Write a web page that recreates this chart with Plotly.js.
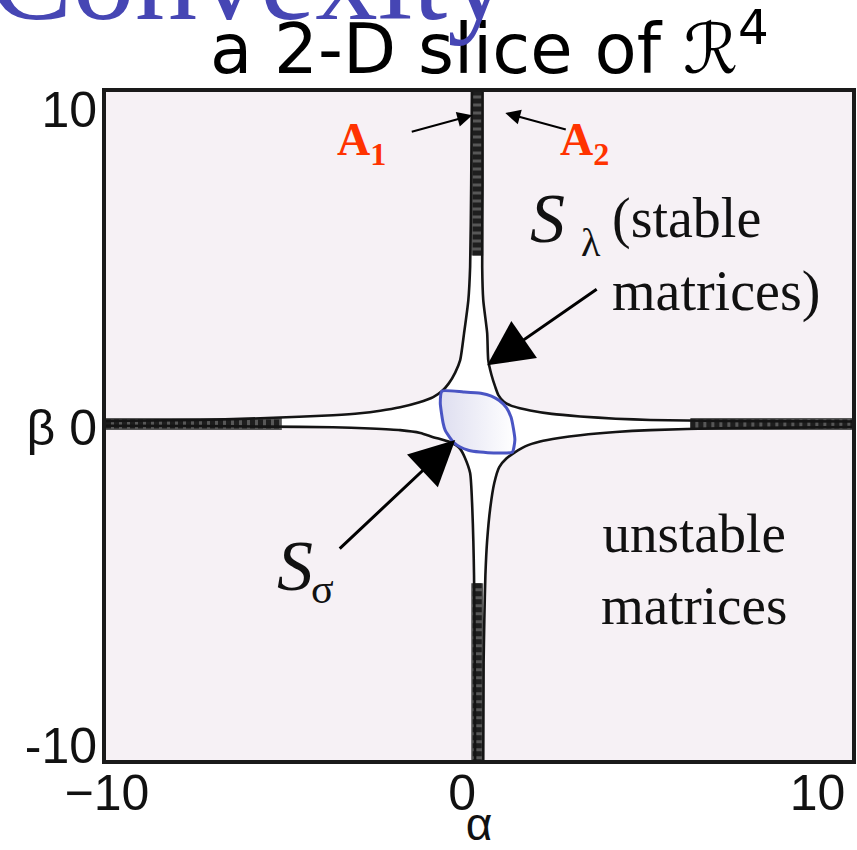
<!DOCTYPE html>
<html>
<head>
<meta charset="utf-8">
<script src="https://cdn.plot.ly/plotly-3.0.1.min.js"></script>
<style>
  html, body { margin: 0; padding: 0; background: #ffffff; }
  #plot { width: 857px; height: 850px; }
</style>
</head>
<body>
<div id="plot"></div>
<script>
// Boundary of the stable set S_lambda in the (alpha, beta) slice, one branch per quadrant.
// Top-left branch, from the top edge down to the left edge
const tlAlpha = [-0.15, -0.17, -0.20, -0.25, -0.37, -0.48, -0.62, -0.80, -0.99, -1.24, -1.65, -2.17, -2.73, -3.30, -4.06, -5.92, -7.80, -10.45];
const tlBeta  = [10.44, 7.50, 4.94, 3.90, 2.86, 2.01, 1.62, 1.28, 1.04, 0.85, 0.68, 0.53, 0.42, 0.34, 0.28, 0.19, 0.13, 0.10];
// Bottom-left branch, from the left edge down to the bottom edge
const blAlpha = [-10.45, -7.80, -5.92, -4.06, -3.00, -2.17, -1.60, -1.24, -0.95, -0.76, -0.60, -0.48, -0.35, -0.20, -0.14, -0.11, -0.09, -0.07, -0.06];
const blBeta  = [-0.05, -0.06, -0.08, -0.10, -0.14, -0.19, -0.28, -0.41, -0.50, -0.57, -0.66, -0.78, -1.05, -1.54, -2.61, -3.65, -4.75, -7.50, -10.56];
// Bottom-right branch, from the bottom edge over to the right edge
const brAlpha = [0.17, 0.18, 0.20, 0.23, 0.28, 0.37, 0.48, 0.62, 0.82, 1.07, 1.35, 1.77, 2.30, 2.90, 3.90, 4.87, 6.85, 10.55];
const brBeta  = [-10.56, -7.50, -6.16, -4.75, -3.65, -2.61, -1.85, -1.35, -1.08, -0.88, -0.70, -0.55, -0.44, -0.35, -0.25, -0.19, -0.13, -0.09];
// Top-right branch, from the top edge over to the right edge
const trAlpha = [0.15, 0.15, 0.14, 0.17, 0.28, 0.31, 0.40, 0.51, 0.60, 0.75, 0.95, 1.20, 1.49, 2.10, 2.90, 3.90, 4.87, 6.85, 10.55];
const trBeta  = [10.44, 7.50, 4.94, 3.90, 2.86, 2.01, 1.55, 1.16, 0.90, 0.70, 0.58, 0.50, 0.43, 0.32, 0.24, 0.17, 0.13, 0.10, 0.08];

// Thin arms of S_lambda along the axes, where both branches run together
const bandVAlpha = [0, 0, null, 0, 0];
const bandVBeta  = [5.3, 10.44, null, -5.0, -10.56];
const bandHAlpha = [-10.45, -5.5, null, 6.0, 10.55];
const bandHBeta  = [0, 0, null, 0, 0];

// The convex set S_sigma (closed outline)
const lensAlpha = [-0.99, -0.39, 0.10, 0.40, 0.62, 0.82, 0.95, 1.02, 1.06, 0.99, 0.65, 0.30, 0.08, -0.25, -0.48, -0.66, -0.76, -0.90, -0.96, -1.04, -0.99];
const lensBeta  = [1.04, 1.01, 0.97, 0.88, 0.74, 0.52, 0.22, -0.15, -0.50, -0.88, -0.91, -0.90, -0.88, -0.82, -0.72, -0.58, -0.44, -0.20, 0.03, 0.66, 1.04];

// Axis ticks
const alphaTickVals = [-10, 0, 10];
const alphaTickText = ['\u221210', '0', '10'];
const betaTickVals  = [-10, 0, 10];
const betaTickText  = ['-10', '\u03b2 0', '10'];

// Closed outline of S_lambda: TL -> BL -> BR -> TR (reversed)
const stableAlpha = tlAlpha.concat(blAlpha, brAlpha, trAlpha.slice().reverse());
const stableBeta  = tlBeta.concat(blBeta, brBeta, trBeta.slice().reverse());

const curveLine = { color: '#141414', width: 2.6, shape: 'spline', smoothing: 0.6 };

const traces = [
  { x: stableAlpha, y: stableBeta, type: 'scatter', mode: 'lines', fill: 'toself',
    fillcolor: '#ffffff', line: { width: 0 }, hoverinfo: 'skip', showlegend: false },
  { x: bandVAlpha, y: bandVBeta, type: 'scatter', mode: 'lines',
    line: { color: '#575757', width: 12 }, hoverinfo: 'skip', showlegend: false },
  { x: bandHAlpha, y: bandHBeta, type: 'scatter', mode: 'lines',
    line: { color: '#575757', width: 12 }, hoverinfo: 'skip', showlegend: false },
  { x: bandVAlpha, y: bandVBeta, type: 'scatter', mode: 'lines',
    line: { color: '#1e1e1e', width: 9, dash: '5px,3px' }, hoverinfo: 'skip', showlegend: false },
  { x: bandHAlpha, y: bandHBeta, type: 'scatter', mode: 'lines',
    line: { color: '#1e1e1e', width: 9, dash: '5px,3px' }, hoverinfo: 'skip', showlegend: false },
  { x: tlAlpha, y: tlBeta, type: 'scatter', mode: 'lines', line: curveLine, hoverinfo: 'skip', showlegend: false },
  { x: blAlpha, y: blBeta, type: 'scatter', mode: 'lines', line: curveLine, hoverinfo: 'skip', showlegend: false },
  { x: brAlpha, y: brBeta, type: 'scatter', mode: 'lines', line: curveLine, hoverinfo: 'skip', showlegend: false },
  { x: trAlpha, y: trBeta, type: 'scatter', mode: 'lines', line: curveLine, hoverinfo: 'skip', showlegend: false },
  { x: lensAlpha, y: lensBeta, type: 'scatter', mode: 'lines', fill: 'toself',
    fillcolor: '#eeeef8',
    fillgradient: { type: 'horizontal', colorscale: [[0, '#dedef0'], [1, '#ffffff']] },
    line: { color: '#4a55c4', width: 3, shape: 'spline', smoothing: 0.5 },
    hoverinfo: 'skip', showlegend: false }
];

const serif = 'Liberation Serif, Times New Roman, serif';
const red = '#ff3300';
const ink = '#111111';

const layout = {
  width: 857,
  height: 850,
  margin: { l: 106, r: 5, t: 92, b: 90 },
  paper_bgcolor: '#ffffff',
  plot_bgcolor: '#f6f1f5',
  showlegend: false,
  title: {
    text: 'a 2-D slice of \u211b<sup>4</sup>',
    font: { family: 'DejaVu Sans, Noto Sans, sans-serif', size: 69, color: '#000000' },
    x: 0.571, xanchor: 'center', xref: 'container',
    y: 0.943, yanchor: 'middle', yref: 'container'
  },
  xaxis: {
    range: [-10.45, 10.55],
    tickvals: alphaTickVals, ticktext: alphaTickText,
    ticks: '', ticklabelshift: -15, ticklabelstandoff: -14,
    showgrid: false, zeroline: false,
    showline: true, mirror: true, linewidth: 4, linecolor: '#1a1a1a',
    tickfont: { family: 'Liberation Sans, Arial, sans-serif', size: 50, color: ink },
    title: { text: '\u03b1', standoff: 7,
             font: { family: 'Liberation Sans, Arial, sans-serif', size: 46, color: ink } },
    automargin: false, fixedrange: true
  },
  yaxis: {
    range: [-10.56, 10.44],
    tickvals: betaTickVals, ticktext: betaTickText,
    ticks: '', ticklabelshift: 3, ticklabelstandoff: -5,
    showgrid: false, zeroline: false,
    showline: true, mirror: true, linewidth: 4, linecolor: '#1a1a1a',
    tickfont: { family: 'Liberation Sans, Arial, sans-serif', size: 50, color: ink },
    automargin: false, fixedrange: true
  },
  annotations: [
    // Slide heading, mostly above the top edge
    { text: 'Convexity', xref: 'paper', yref: 'paper', x: 0.193, y: 1.172,
      xanchor: 'center', yanchor: 'middle', showarrow: false,
      font: { family: serif, size: 125, color: '#4646b4' } },
    // A1 / A2 labels and pointers
    { text: '<b>A<sub>1</sub></b>', xref: 'paper', yref: 'paper', x: 0.343, y: 0.924,
      xanchor: 'center', yanchor: 'middle', showarrow: false,
      font: { family: serif, size: 46, color: red } },
    { text: '<b>A<sub>2</sub></b>', xref: 'paper', yref: 'paper', x: 0.642, y: 0.924,
      xanchor: 'center', yanchor: 'middle', showarrow: false,
      font: { family: serif, size: 46, color: red } },
    { text: '', x: -0.14, y: 9.71, xref: 'x', yref: 'y', ax: -62, ay: 17,
      showarrow: true, arrowhead: 2, arrowsize: 1.5, arrowwidth: 2, arrowcolor: '#000000', standoff: 0 },
    { text: '', x: 0.79, y: 9.78, xref: 'x', yref: 'y', ax: 62, ay: 17,
      showarrow: true, arrowhead: 2, arrowsize: 1.5, arrowwidth: 2, arrowcolor: '#000000', standoff: 0 },
    // S_lambda label
    { text: '<i>S</i>', xref: 'paper', yref: 'paper', x: 0.592, y: 0.81,
      xanchor: 'center', yanchor: 'middle', showarrow: false,
      font: { family: serif, size: 70, color: ink } },
    { text: '\u03bb', xref: 'paper', yref: 'paper', x: 0.650, y: 0.775,
      xanchor: 'center', yanchor: 'middle', showarrow: false,
      font: { family: serif, size: 40, color: ink } },
    { text: '(stable<br>matrices)', xref: 'paper', yref: 'paper', x: 0.676, y: 0.756,
      xanchor: 'left', yanchor: 'middle', align: 'left', showarrow: false,
      font: { family: serif, size: 56, color: ink } },
    { text: '', x: 0.28, y: 1.85, xref: 'x', yref: 'y', ax: 111, ay: -77,
      showarrow: true, arrowhead: 2, arrowsize: 3, arrowwidth: 3, arrowcolor: '#000000', standoff: 0 },
    // S_sigma label
    { text: '<i>S</i>', xref: 'paper', yref: 'paper', x: 0.254, y: 0.29,
      xanchor: 'center', yanchor: 'middle', showarrow: false,
      font: { family: serif, size: 72, color: ink } },
    { text: '\u03c3', xref: 'paper', yref: 'paper', x: 0.290, y: 0.256,
      xanchor: 'center', yanchor: 'middle', showarrow: false,
      font: { family: serif, size: 42, color: ink } },
    { text: '', x: -0.62, y: -0.50, xref: 'x', yref: 'y', ax: -117, ay: 110,
      showarrow: true, arrowhead: 2, arrowsize: 3, arrowwidth: 3, arrowcolor: '#000000', standoff: 0 },
    // Unstable region label
    { text: 'unstable<br>matrices', xref: 'paper', yref: 'paper', x: 0.788, y: 0.285,
      xanchor: 'center', yanchor: 'middle', align: 'center', showarrow: false,
      font: { family: serif, size: 55, color: ink } }
  ]
};

Plotly.newPlot('plot', traces, layout, { staticPlot: true, displayModeBar: false });
</script>
</body>
</html>
